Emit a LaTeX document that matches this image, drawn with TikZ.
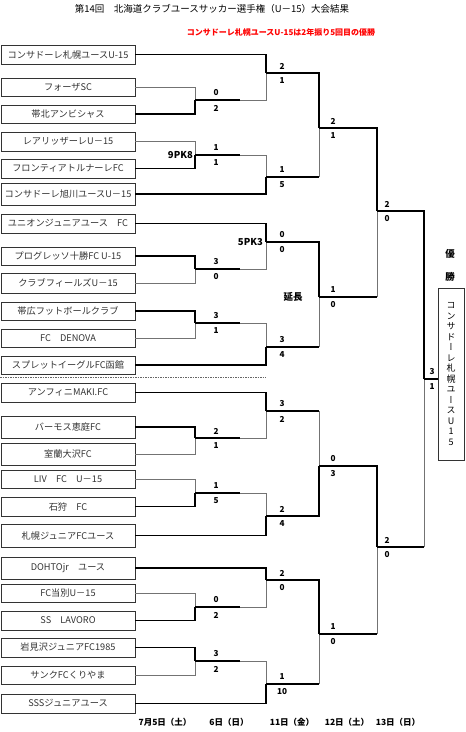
\documentclass[tikz,border=0pt]{standalone}
\usepackage{fontspec}
\setmainfont{Noto Sans CJK JP}
\newfontfamily\tate{Noto Sans CJK JP}[RawFeature=+vert]
\tikzset{
  win/.style={line width=1.8pt},
  lose/.style={line width=0.7pt,black!55},
  team/.style={draw=black!80,line width=0.8pt,minimum width=134pt,inner sep=0pt,
    text=black!80,font=\fontsize{9.2}{10}\selectfont},
  score/.style={inner sep=0pt,font=\bfseries\fontsize{8.2}{8.2}\selectfont},
  pk/.style={inner sep=0pt,font=\bfseries\fontsize{9.5}{9.5}\selectfont},
  day/.style={inner sep=0pt,font=\bfseries\fontsize{8.5}{8.5}\selectfont},
}
\begin{document}
\begin{tikzpicture}[x=1pt,y=-1pt]
  \useasboundingbox (0,0) rectangle (466,732);
  \node[inner sep=0pt,font=\fontsize{9.5}{9.5}\selectfont] (title) at (212,9)
    {第14回　北海道クラブユースサッカー選手権（U－15）大会結果};
  \node[inner sep=0pt,text=red,font=\bfseries\fontsize{8}{8}\selectfont] (note) at (281,32)
    {コンサドーレ札幌ユースU-15は2年振り5回目の優勝};

  % teams
  \foreach \n/\y/\h/\s in {1/54.5/19/{コンサドーレ札幌ユースU-15}, 2/87/18/{フォーザSC},
      3/114/18/{帯北アンビシャス}, 4/141.5/19/{レアリッザーレU－15},
      5/168.5/19/{フロンティアトルナーレFC}, 6/194/22/{コンサドーレ旭川ユースU－15},
      7/223.5/19/{ユニオンジュニアユース　FC}, 8/256/18/{プログレッソ十勝FC U-15},
      9/283/20/{クラブフィールズU－15}, 10/311/18/{帯広フットボールクラブ},
      11/338/18/{FC　DENOVA}, 12/365/18/{スプレットイーグルFC函館},
      13/392.5/19/{アンフィニMAKI.FC}, 14/427/22/{バーモス恵庭FC},
      15/454/22/{室蘭大沢FC}, 16/479/18/{LIV　FC　U－15},
      17/506.5/19/{石狩　FC}, 18/535.5/23/{札幌ジュニアFCユース},
      19/568/22/{DOHTOjr　ユース}, 20/593/18/{FC当別U－15},
      21/620.5/19/{SS　LAVORO}, 22/647.5/19/{岩見沢ジュニアFC1985},
      23/675/18/{サンクFCくりやま}, 24/703.5/19/{SSSジュニアユース}}
    \node[team,minimum height=\h] (t\n) at (68,\y) {\s};

  \coordinate (sepL) at (0,377);
  \coordinate (sepR) at (266,377);
  \draw[black!60,line width=0.8pt,dash pattern=on 1.5pt off 1pt] (sepL) -- (sepR);

  % match points
  \foreach \m/\y in {m1/100, m2/155, m3/269, m4/323, m5/438, m6/493, m7/607, m8/661}
    \coordinate (\m) at (195,\y);
  \foreach \m/\y in {n1/73, n2/177, n3/242, n4/347, n5/411, n6/516, n7/580, n8/684}
    \coordinate (\m) at (266,\y);
  \foreach \m/\y in {q1/128, q2/297, q3/466, q4/634}
    \coordinate (\m) at (319,\y);
  \coordinate (s1) at (377,211);
  \coordinate (s2) at (377,547);
  \coordinate (f) at (424,379);

  % first round
  \foreach \w/\l/\m in {t3/t2/m1, t5/t4/m2, t8/t9/m3, t10/t11/m4,
      t14/t15/m5, t17/t16/m6, t21/t20/m7, t22/t23/m8}{
    \draw[lose] (\l) -| (\m);
    \draw[win] (\w) -| (\m);
  }
  % second round
  \foreach \w/\l/\m in {t1/m1/n1, t6/m2/n2, t7/m3/n3, t12/m4/n4,
      t13/m5/n5, t18/m6/n6, t19/m7/n7, t24/m8/n8}{
    \draw[lose] ([xshift=45pt]\l) -| (\m);
    \draw[win] (\l) -- ([xshift=45pt]\l);
    \draw[win] (\w) -| (\m);
  }
  % later rounds
  \foreach \w/\l/\m in {n1/n2/q1, n3/n4/q2, n6/n5/q3, n7/n8/q4,
      q1/q2/s1, q3/q4/s2, s1/s2/f}{
    \draw[lose] (\l -| \m) -- (\m);
    \draw[win] (\l) -- (\l -| \m);
    \draw[win] (\w) -| (\m);
  }

  % scores
  \foreach \m/\dx/\a/\b in {m1/21/0/2, m2/21/1/1, m3/21/3/0, m4/21/3/1,
      m5/21/2/1, m6/21/1/5, m7/21/0/2, m8/21/3/2,
      n1/16/2/1, n2/16/1/5, n3/16/0/0, n4/16/3/4,
      n5/16/3/2, n6/16/2/4, n7/16/2/0, n8/16/1/10,
      q1/14/2/1, q2/14/1/0, q3/14/0/3, q4/14/1/0,
      s1/10/2/0, s2/10/2/0, f/8/3/1}{
    \node[score] (\m-a) at ([xshift=\dx pt,yshift=7pt]\m) {\a};
    \node[score] (\m-b) at ([xshift=\dx pt,yshift=-8pt]\m) {\b};
  }
  \node[pk,anchor=east] (pk1) at ([xshift=-2pt]m2) {9PK8};
  \node[pk,anchor=east] (pk2) at ([xshift=-3pt]n3) {5PK3};
  \node[pk] (ext) at ([xshift=-26pt]q2) {延長};

  % champion
  \node[pk] (yu) at (450,254) {優};
  \node[pk] (sho) at (450,277) {勝};
  \node[draw=black!80,line width=0.8pt,minimum width=26pt,minimum height=172pt,
    inner sep=0pt,align=center,font=\tate\fontsize{9}{10.5}\selectfont] (champ) at (451,374)
    {コ\\ン\\サ\\ド\\ー\\レ\\札\\幌\\ユ\\ー\\ス\\U\\1\\5};
  \draw[win] (f) -- (f -| champ.west);

  % dates
  \node[day] (d1) at (165,722) {7月5日（土）};
  \node[day] (d2) at (229,722) {6日（日）};
  \node[day] (d3) at (292,722) {11日（金）};
  \node[day] (d4) at (347,722) {12日（土）};
  \node[day] (d5) at (398,722) {13日（日）};
\end{tikzpicture}
\end{document}
